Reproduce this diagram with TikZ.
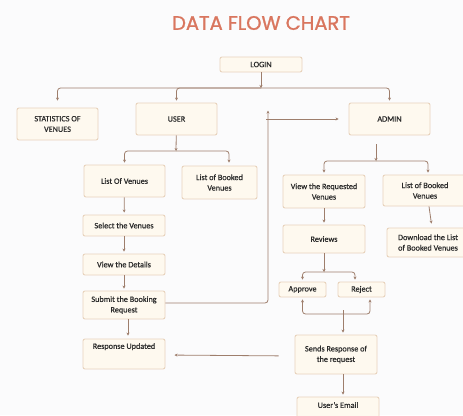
\documentclass[tikz,border=0pt]{standalone}
\usepackage{fontspec}
\setmainfont{Carlito}[FakeBold=0.5]
\newfontfamily\titlefont{Poppins}[FakeBold=1.2]
\usepackage{tikz}
\usetikzlibrary{arrows.meta}

\definecolor{titlered}{HTML}{D9765F}
\definecolor{boxfill}{HTML}{FEF9EF}
\definecolor{boxline}{HTML}{E8D2BC}
\definecolor{linkbrown}{HTML}{9E7E6C}
\definecolor{textgray}{HTML}{2A2A2A}
\definecolor{paper}{HTML}{FBFBFC}

\tikzset{
    stepbox/.style={draw=boxline, fill=boxfill, line width=0.9pt,
        rounded corners=2pt, align=center, inner sep=0pt,
        font=\fontsize{8.2}{10.5}\selectfont, text=textgray},
    link/.style={draw=linkbrown, line width=0.8pt, rounded corners=3pt,
        -{Stealth[length=3pt,width=3pt]}},
}

\begin{document}
\begin{tikzpicture}[x=1pt, y=-1pt]

    \fill[paper] (0,0) rectangle (463,415);
    \useasboundingbox (0,0) rectangle (463,415);
    \clip (0,0) rectangle (463,415);

    \node[text=titlered, font=\titlefont\fontsize{19.5}{22}\selectfont] (title) at (261,23) {DATA FLOW CHART};

    % top level
    \node[stepbox, minimum width=82pt, minimum height=15pt] (login) at (261,64.5) {LOGIN};
    \node[stepbox, minimum width=81pt, minimum height=32pt] (stats) at (57.5,124) {STATISTICS OF\\VENUES};
    \node[stepbox, minimum width=81pt, minimum height=32pt] (user) at (176.5,119) {USER};
    \node[stepbox, minimum width=81pt, minimum height=32pt] (admin) at (389.5,119) {ADMIN};

    % user side
    \node[stepbox, minimum width=81pt, minimum height=32pt] (venues) at (124.5,181) {List Of Venues};
    \node[stepbox, minimum width=75pt, minimum height=33pt] (ubooked) at (219.5,182.5) {List of Booked\\Venues};
    \node[stepbox, minimum width=82pt, minimum height=21pt] (select) at (124,225.5) {Select the Venues};
    \node[stepbox, minimum width=82pt, minimum height=21pt] (details) at (124,264.5) {View the Details};
    \node[stepbox, minimum width=82pt, minimum height=28pt] (submit) at (124,305) {Submit the Booking\\Request};
    \node[stepbox, minimum width=82pt, minimum height=30pt, text depth=16pt] (updated) at (124,354) {Response Updated};

    % admin side
    \node[stepbox, minimum width=82pt, minimum height=33pt] (viewreq) at (324,191.5) {View the Requested\\Venues};
    \node[stepbox, minimum width=84pt, minimum height=31pt] (abooked) at (425,190.5) {List of Booked\\Venues};
    \node[stepbox, minimum width=82pt, minimum height=28pt] (reviews) at (324,239) {Reviews};
    \node[stepbox, minimum width=82pt, minimum height=29pt] (download) at (428,242.5) {Download the List\\of Booked Venues};
    \node[stepbox, minimum width=47pt, minimum height=15pt] (approve) at (302.5,289.5) {Approve};
    \node[stepbox, minimum width=47pt, minimum height=15pt] (reject) at (361.5,289.5) {Reject};
    \node[stepbox, minimum width=82pt, minimum height=39pt] (sends) at (336,354.5) {Sends Response of\\the request};
    \node[stepbox, minimum width=82pt, minimum height=26pt, text depth=10pt] (email) at (338,410) {User's Email};

    % junctions
    \coordinate (hub) at (261,88);
    \coordinate (uhub) at (176,151);
    \coordinate (ahub) at (376,161);
    \coordinate (rhub) at (324,272);
    \coordinate (merge) at (343,314);
    \coordinate (turn) at (268,303);
    \coordinate (relay) at (266,119);

    \draw[link] (login) -- (hub);
    \draw[link, shorten >=7pt] (hub) -| (stats.north);
    \draw[link, shorten >=2pt] (hub) -| (user.north);
    \draw[link, shorten >=2pt] (hub) -| (admin.north);

    \draw[link] (user) -- (uhub);
    \draw[link, shorten >=2pt] (uhub) -| (venues.north);
    \draw[link, shorten >=3pt] (uhub) -| ([xshift=9.5pt]ubooked.north);

    \draw[link, shorten >=2pt] (venues) -- (select);
    \draw[link, shorten >=2pt] (select) -- (details);
    \draw[link, shorten >=2pt] (details) -- (submit);
    \draw[link, shorten >=3pt] ([xshift=4pt]submit.south) -- ([xshift=4pt]updated.north);

    \draw[link, shorten >=8pt] (submit.east |- turn) -- (turn) -- (turn |- admin.north);
    \draw[link, shorten >=10pt] (relay) -- (admin.west);

    \draw[link, shorten <=9pt] (ahub |- admin.south) -- (ahub);
    \draw[link, shorten >=2pt] (ahub) -| (viewreq.north);
    \draw[link, shorten >=2pt] (ahub) -| ([xshift=3pt]abooked.north);

    \draw[link, shorten >=2pt] (viewreq) -- (reviews);
    \draw[link, shorten >=4pt] ([xshift=4pt]abooked.south) -- ([xshift=4pt]download.north);

    \draw[link] (reviews) -- (rhub);
    \draw[link, shorten >=2pt] (rhub) -| (approve.north);
    \draw[link, shorten >=2pt] (rhub) -| ([xshift=-6.5pt]reject.north);

    \draw[link, {Stealth[length=3pt,width=3pt]}-{Stealth[length=3pt,width=3pt]}, shorten <=2pt, shorten >=2pt]
        (approve.south) |- (merge) -| ([xshift=8.5pt]reject.south);
    \draw[link, shorten >=2pt] ([yshift=4pt]merge) -- (merge |- sends.north);

    \draw[link, shorten <=16pt, shorten >=9pt] ([yshift=-1.5pt]sends.west) -- ([yshift=-1pt]updated.east);
    \draw[link, shorten >=2pt] ([xshift=7pt]sends.south) -- ([xshift=5pt]email.north);

\end{tikzpicture}
\end{document}
